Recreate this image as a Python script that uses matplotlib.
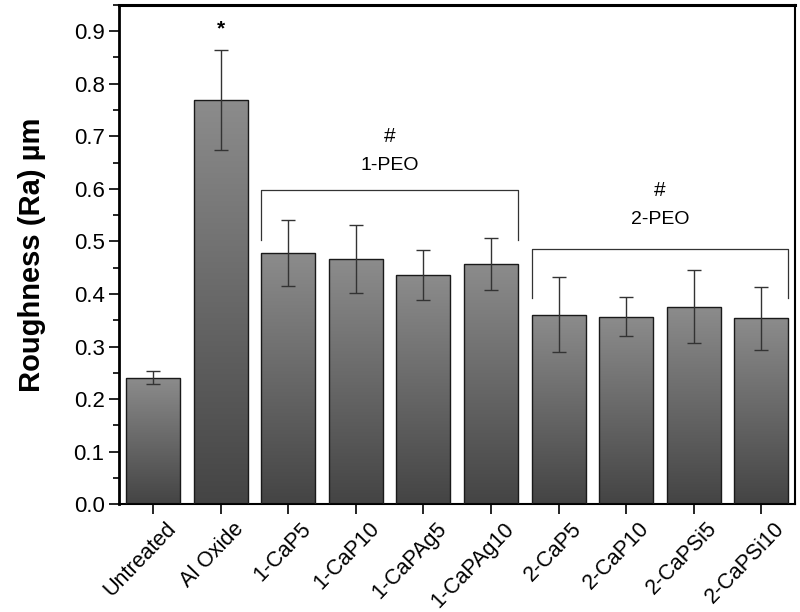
import matplotlib
matplotlib.use('Agg')
import matplotlib.pyplot as plt
import numpy as np
from matplotlib.colors import LinearSegmentedColormap
from matplotlib.ticker import MultipleLocator

plt.rcParams['font.family'] = ['Liberation Sans', 'DejaVu Sans']

samples = ['Untreated', 'Al Oxide', '1-CaP5', '1-CaP10', '1-CaPAg5', '1-CaPAg10',
           '2-CaP5', '2-CaP10', '2-CaPSi5', '2-CaPSi10']
roughness = [0.241, 0.769, 0.478, 0.466, 0.436, 0.457, 0.361, 0.357, 0.376, 0.354]
roughness_err = [0.012, 0.095, 0.063, 0.065, 0.048, 0.050, 0.072, 0.037, 0.070, 0.060]

fig = plt.figure(figsize=(8, 6.12), dpi=100)
ax = fig.add_axes([0.149, 0.176, 0.845, 0.816])

x = np.arange(len(samples))
bars = ax.bar(x, roughness, width=0.8, color='none', edgecolor='#1a1a1a', linewidth=1.0, zorder=3)

# vertical gradient inside each bar, lighter at top
cmap = LinearSegmentedColormap.from_list('g', ['#444444', '#8c8c8c'])
grad = np.linspace(0, 1, 256).reshape(-1, 1)
for b in bars:
    x0, w, h = b.get_x(), b.get_width(), b.get_height()
    im = ax.imshow(grad, cmap=cmap, origin='lower', aspect='auto',
                   extent=[x0, x0 + w, 0, h], zorder=2)
    im.set_clip_path(b)

ax.errorbar(x, roughness, yerr=roughness_err, fmt='none', ecolor='#333333',
            elinewidth=1.0, capsize=5, capthick=1.0, zorder=4)

# group brackets
ax.plot([1.6, 1.6, 5.4, 5.4], [0.502, 0.597, 0.597, 0.502], color='#333333', lw=0.9)
ax.plot([5.6, 5.6, 9.4, 9.4], [0.392, 0.486, 0.486, 0.392], color='#333333', lw=0.9)
ax.text(3.5, 0.70, '#', ha='center', va='center', fontsize=15)
ax.text(3.5, 0.645, '1-PEO', ha='center', va='center', fontsize=14)
ax.text(7.5, 0.597, '#', ha='center', va='center', fontsize=15)
ax.text(7.5, 0.541, '2-PEO', ha='center', va='center', fontsize=14)
ax.text(1, 0.905, '*', ha='center', va='center', fontsize=15, fontweight='bold')

ax.set_xlim(-0.5, 9.5)
ax.set_ylim(0, 0.95)
ax.set_xticks(x)
ax.set_xticklabels([])
# rotated sample names, shifted a little right of the ticks like the original
for xi, name in zip(x, samples):
    ax.annotate(name, xy=(xi, 0), xycoords=('data', 'axes fraction'),
                xytext=(9, -10), textcoords='offset points',
                rotation=46, ha='right', va='top', rotation_mode='anchor',
                fontsize=15.5)
ax.yaxis.set_major_locator(MultipleLocator(0.1))
ax.yaxis.set_minor_locator(MultipleLocator(0.05))
ax.yaxis.set_major_formatter(matplotlib.ticker.FormatStrFormatter('%.1f'))
ax.tick_params(axis='y', labelsize=16, length=7, width=1.2)
ax.tick_params(axis='y', which='minor', length=4, width=1.2)
ax.tick_params(axis='x', length=7, width=1.2)
ax.set_ylabel('Roughness (Ra) µm', fontsize=21, fontweight='bold', labelpad=20)
for s in ax.spines.values():
    s.set_linewidth(1.5)
ax.spines['top'].set_linewidth(2.2)
ax.spines['left'].set_linewidth(2.0)

fig.savefig('out.png', dpi=100)
